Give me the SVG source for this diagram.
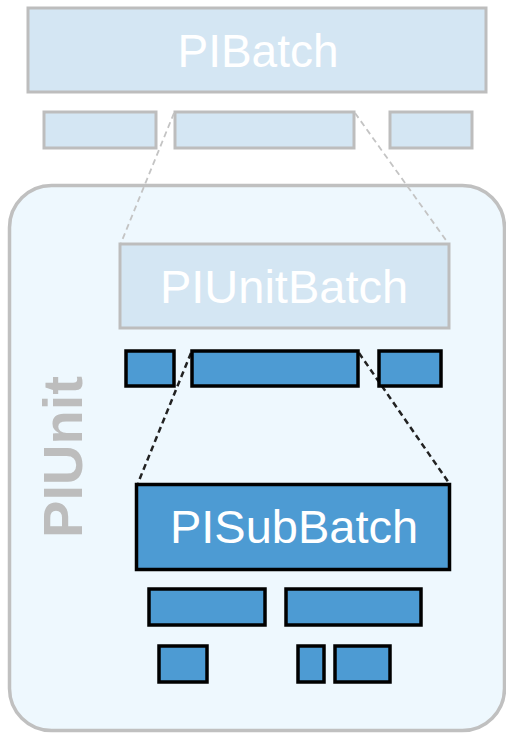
<svg xmlns="http://www.w3.org/2000/svg" width="506" height="733" viewBox="0 0 506 733">
<style>
.light{fill:#d4e6f3;stroke:#bdbdbd;stroke-width:3}
.dark{fill:#4d9bd3;stroke:#000;stroke-width:3.5}
.lbl{font-family:"Liberation Sans",Arial,sans-serif;fill:#ffffff;text-anchor:middle}
.gdash{stroke:#c4c4c4;stroke-width:1.8;stroke-dasharray:6,4;fill:none}
.kdash{stroke:#222;stroke-width:2.5;stroke-dasharray:6,4;fill:none}
</style>
<rect width="506" height="733" fill="#ffffff"/>
<g id="PIBatch">
<rect class="light" x="28" y="8" width="458" height="84"/>
<text class="lbl" x="258" y="67" font-size="46">PIBatch</text>
</g>
<g id="batch-row">
<rect class="light" x="44" y="112" width="112" height="36"/>
<rect class="light" x="175" y="112" width="179" height="36"/>
<rect class="light" x="390" y="112" width="82" height="36"/>
</g>
<g id="PIUnit">
<rect x="9.5" y="185.5" width="495" height="545" rx="42" fill="#eef8fe" stroke="#c0c0c0" stroke-width="3.5"/>
<text x="82" y="457" transform="rotate(-90 82 457)" font-family="'Liberation Sans',Arial,sans-serif" font-weight="bold" font-size="56" fill="#bdbdbd" text-anchor="middle">PIUnit</text>
</g>
<g id="connectors">
<line class="gdash" x1="174" y1="113" x2="121" y2="243"/>
<line class="gdash" x1="355" y1="113" x2="448" y2="243"/>
<line class="kdash" x1="191" y1="353" x2="138" y2="483"/>
<line class="kdash" x1="359" y1="353" x2="449" y2="483"/>
</g>
<g id="PIUnitBatch">
<rect class="light" x="120" y="244" width="329" height="84"/>
<text class="lbl" x="284" y="303" font-size="47">PIUnitBatch</text>
</g>
<g id="unitbatch-row">
<rect class="dark" x="126" y="351" width="48" height="35"/>
<rect class="dark" x="192" y="351" width="166" height="35"/>
<rect class="dark" x="379" y="351" width="62" height="35"/>
</g>
<g id="PISubBatch">
<rect class="dark" x="136.5" y="484.5" width="313" height="85"/>
<text class="lbl" x="294" y="543" font-size="47">PISubBatch</text>
</g>
<g id="subbatch-row1">
<rect class="dark" x="149" y="589" width="116" height="36"/>
<rect class="dark" x="286" y="589" width="135" height="36"/>
</g>
<g id="subbatch-row2">
<rect class="dark" x="159" y="646" width="48" height="36"/>
<rect class="dark" x="298" y="646" width="26" height="36"/>
<rect class="dark" x="335" y="646" width="55" height="36"/>
</g>
</svg>
